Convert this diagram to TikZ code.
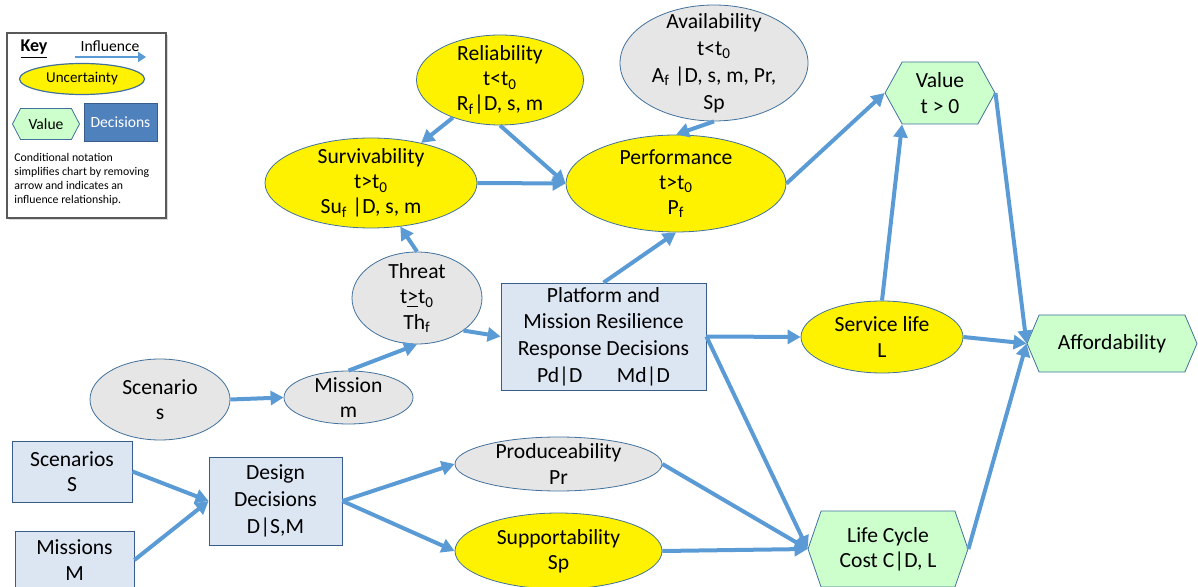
\documentclass[tikz,border=0pt]{standalone}
\usepackage{fontspec}
\setmainfont{Carlito}
\usetikzlibrary{shapes.geometric,shapes.symbols,arrows.meta,shadows}
\definecolor{infblue}{HTML}{5B9BD5}
\definecolor{nodeedge}{HTML}{41719C}
\definecolor{ukngray}{HTML}{E6E6E6}
\definecolor{decfill}{HTML}{DCE6F2}
\definecolor{decedge}{HTML}{385D8A}
\definecolor{keydec}{HTML}{4F81BD}
\definecolor{valfill}{HTML}{CCFFCC}
\begin{document}
\begin{tikzpicture}[x=0.5pt, y=-0.5pt, every node/.style={font=\fontsize{10.8}{12.6}\selectfont, align=center},
    unc/.style={ellipse, draw=nodeedge, fill=yellow, thin, inner sep=-20pt},
    ukn/.style={unc, fill=ukngray},
    dec/.style={rectangle, draw=decedge, fill=decfill, thin, inner sep=2pt},
    val/.style={signal, signal to=west and east, signal pointer angle=130, draw=nodeedge, fill=valfill, thin, inner sep=2pt},
    infl/.style={-{Triangle[length=6.5pt,width=7pt]}, line width=2pt, infblue}]
    \useasboundingbox (0,0) rectangle (1198,587);
    \node[draw=black!65, line width=0.8pt, fill=white, minimum width=79.5pt, minimum height=92.5pt, drop shadow={shadow xshift=1pt, shadow yshift=-1pt, opacity=0.3}] (keybox) at (86.5,125.5) {};
    \node[font=\bfseries\fontsize{9}{10}\selectfont] (keyttl) at (34,49) {\underline{Key}};
    \node[font=\fontsize{7.8}{9}\selectfont] (keyinf) at (110,46) {Influence};
    \coordinate (kA) at (75,57);
    \coordinate (kB) at (146,57);
    \draw[-{Triangle[length=4pt,width=5pt]}, line width=1.2pt, infblue] (kA) -- (kB);
    \node[unc, line width=0.6pt, minimum width=62.5pt, minimum height=15.5pt, font=\fontsize{7.5}{8}\selectfont] (keyunc) at (82,79) {Uncertainty};
    \node[val, signal pointer angle=125, minimum width=33.5pt, minimum height=15.5pt, inner sep=1pt, font=\fontsize{7.8}{8}\selectfont] (keyval) at (46,124) {Value};
    \node[dec, fill=keydec, text=white, minimum width=36.5pt, minimum height=19pt, font=\fontsize{7.8}{8}\selectfont] (keydec) at (120.5,122) {Decisions};
    \node[anchor=north west, align=left, inner sep=1pt, font=\fontsize{5.9}{7}\selectfont] (keynote) at (12,151) {Conditional notation\\simplifies chart by removing\\arrow and indicates an\\influence relationship.};

    \node[unc, minimum width=83.5pt, minimum height=45pt] (rel) at (500,80) {Reliability\\t<t\textsubscript{0}\\R\textsubscript{f}|D, s, m};
    \node[ukn, minimum width=94pt, minimum height=58pt, font=\fontsize{10.8}{13.5}\selectfont] (avail) at (714,63) {Availability\\t<t\textsubscript{0}\\A\textsubscript{f} |D, s, m, Pr,\\Sp};
    \node[unc, minimum width=106pt, minimum height=45pt] (surv) at (371,183) {Survivability\\t>t\textsubscript{0}\\Su\textsubscript{f} |D, s, m};
    \node[unc, minimum width=110pt, minimum height=48.5pt] (perf) at (676,183.5) {Performance\\t>t\textsubscript{0}\\P\textsubscript{f}};
    \node[val, signal pointer angle=122, minimum width=55pt, minimum height=31pt] (value) at (940,93) {Value\\t > 0};
    \node[ukn, minimum width=65pt, minimum height=46pt] (threat) at (417,298) {Threat\\t\underline{>}t\textsubscript{0}\\Th\textsubscript{f}};
    \node[dec, minimum width=102.5pt, minimum height=53.5pt, font=\fontsize{10.8}{13.4}\selectfont] (plat) at (603.5,336.5) {Platform and\\Mission Resilience\\Response Decisions\\Pd|D\hspace{1.6em}Md|D};
    \node[unc, minimum width=81pt, minimum height=36pt] (svc) at (882,337) {Service life\\L};
    \node[val, signal pointer angle=134, minimum width=85pt, minimum height=28.5pt] (afford) at (1112,343.5) {Affordability};
    \node[ukn, minimum width=70pt, minimum height=40.5pt] (scen) at (160,399.5) {Scenario\\s};
    \node[ukn, minimum width=64.5pt, minimum height=26.5pt] (mis) at (348.5,397.5) {Mission\\m};
    \node[dec, minimum width=60pt, minimum height=30.5pt] (scens) at (72,471.5) {Scenarios\\S};
    \node[dec, minimum width=59.5pt, minimum height=29pt] (miss) at (74.5,560) {Missions\\M};
    \node[dec, minimum width=66.5pt, minimum height=44pt, font=\fontsize{10.8}{13.4}\selectfont] (design) at (275.5,501) {Design\\Decisions\\D|S,M};
    \node[ukn, minimum width=103.5pt, minimum height=27pt] (prod) at (558.5,464) {Produceability\\Pr};
    \node[unc, minimum width=103.5pt, minimum height=38pt] (supp) at (558.5,551) {Supportability\\Sp};
    \node[val, signal pointer angle=142, minimum width=80pt, minimum height=38pt] (lcc) at (888,549) {Life Cycle\\Cost C|D, L};

    \draw[infl] (rel) -- (surv);
    \draw[infl] (rel.south) -- (perf.west);
    \draw[infl] (surv.east) -- (perf.west);
    \draw[infl] (avail.south) -- (perf.north);
    \draw[infl] (perf.east) -- (value.west);
    \draw[infl] (threat.north) -- (surv);
    \draw[infl] (threat.-35) -- (plat.west);
    \draw[infl] (mis.north) -- (threat.south);
    \draw[infl] (scen.east) -- (mis.west);
    \draw[infl] (plat.north) -- (perf.south);
    \draw[infl] (plat.east) -- (svc.west);
    \draw[infl] (plat.east) -- (lcc.west);
    \draw[infl] (svc.north) -- ([xshift=-19pt]value.south);
    \draw[infl] (svc.east) -- (afford.west);
    \draw[infl] (value.east) -- (afford.west);
    \draw[infl] (lcc.east) -- (afford.west);
    \draw[infl] (prod.east) -- (lcc.west);
    \draw[infl] (supp.east) -- (lcc.west);
    \draw[infl] (scens.east) -- (design.west);
    \draw[infl] (miss.east) -- (design.west);
    \draw[infl] (design.east) -- (prod.west);
    \draw[infl] (design.east) -- (supp.west);
\end{tikzpicture}
\end{document}
